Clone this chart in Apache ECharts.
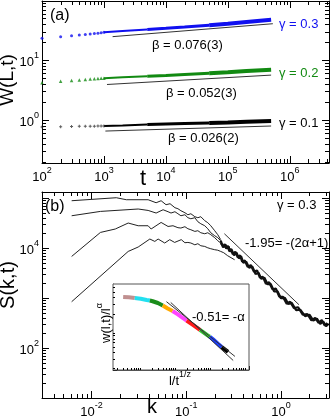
<!DOCTYPE html>
<html>
<head>
<meta charset="utf-8">
<script src="https://cdn.jsdelivr.net/npm/echarts@6/dist/echarts.min.js"></script>
<style>
html, body { margin: 0; padding: 0; background: #fff; }
#chart { width: 332px; height: 419px; }
</style>
</head>
<body>
<div id="chart"></div>
<script>
// (a) W(L,t) vs t : early sparse points, then dense band, then power-law fits
var T_DOTS = [100, 200, 300, 400, 500, 600, 700, 800, 900, 1000];
var W03_DOTS = [23.3, 24.6, 25.6, 26.3, 26.9, 27.4, 27.9, 28.4, 28.9, 29.4];
var W02_DOTS = [4.2, 4.45, 4.58, 4.68, 4.76, 4.83, 4.89, 4.93, 4.97, 5.0];
var W01_DOTS = [0.76, 0.77, 0.775, 0.78, 0.782, 0.785, 0.787, 0.789, 0.79, 0.792];

var T_BAND = [1e3, 2e3, 5e3, 1e4, 2e4, 5e4, 1e5, 2e5, 5e5];
var W03_BAND = [29.4, 30.9, 32.6, 34.2, 35.9, 38.5, 40.8, 43.6, 47.5];
var W02_BAND = [5.0, 5.17, 5.39, 5.57, 5.78, 6.05, 6.3, 6.58, 6.95];
var W01_BAND = [0.792, 0.81, 0.835, 0.852, 0.87, 0.89, 0.905, 0.93, 0.96];

var T_FIT03 = [1380, 5.33e5], W_FIT03 = [24.8, 40.8];
var T_FIT02 = [1120, 5.0e5], W_FIT02 = [3.92, 5.63];
var T_FIT01 = [1055, 5.0e5], W_FIT01 = [0.651, 0.791];

// (b) S(k,t) for four times
var K1 = [0.00617, 0.01828, 0.0233, 0.0396, 0.0481, 0.0543, 0.0612, 0.0675, 0.0760, 0.0818, 0.0879, 0.0969, 0.1042, 0.112, 0.1234, 0.1327, 0.1426, 0.157, 0.169, 0.1817, 0.200, 0.2153, 0.2314];
var S1 = [88300, 101400, 92500, 92500, 80500, 88300, 73500, 76900, 64000, 61100, 55700, 50800, 46300, 48500, 42300, 40400, 42300, 35200, 32100, 27900, 22200, 18500, 14700];
var K2 = [0.00617, 0.01242, 0.0311, 0.0396, 0.0481, 0.0570, 0.0643, 0.0691, 0.0760, 0.0818, 0.0879, 0.0969, 0.1042, 0.112, 0.1234, 0.1327, 0.1426, 0.157, 0.169, 0.1817, 0.200, 0.2153, 0.2314];
var S2 = [44200, 54000, 60300, 56500, 50100, 58300, 53200, 50100, 53200, 48500, 44200, 46300, 40400, 38500, 40400, 33600, 30600, 27900, 24300, 20200, 17600, 16100, 14000];
var K3 = [0.00617, 0.01242, 0.01782, 0.0244, 0.0311, 0.0396, 0.0426, 0.0543, 0.0643, 0.0725, 0.0818, 0.0879, 0.0969, 0.1042, 0.112, 0.1234, 0.1327, 0.1426, 0.157, 0.169, 0.1817, 0.200, 0.2153, 0.2314];
var S3 = [6790, 20500, 24000, 31600, 27900, 27900, 24000, 32500, 27000, 27900, 25500, 25100, 26700, 24300, 23200, 21500, 22200, 20200, 19300, 20200, 18500, 16100, 14000, 12600];
var K4 = [0.00617, 0.0244, 0.0311, 0.0413, 0.0466, 0.0505, 0.0593, 0.0670, 0.0755, 0.0887, 0.0969, 0.1042, 0.112, 0.1234, 0.1327, 0.1426, 0.157, 0.169, 0.1817, 0.200, 0.2153, 0.2314, 0.249, 0.274, 0.3243];
var S4 = [843, 8550, 10470, 15140, 13550, 15140, 12600, 14700, 12940, 14700, 12760, 12940, 12600, 11600, 12200, 11100, 10760, 10100, 9680, 9250, 9040, 8550, 8050, 7010, 5830];
// merged noisy tail of all four curves (two interleaved traces)
var K_TAIL = [0.2314, 0.25, 0.26, 0.27, 0.28, 0.29, 0.30, 0.32, 0.34, 0.36, 0.38, 0.40, 0.43, 0.46, 0.50, 0.54, 0.58, 0.62, 0.67, 0.72, 0.78, 0.85, 0.92, 1.0, 1.1, 1.2, 1.3, 1.45, 1.6, 1.8, 2.0, 2.2, 2.4, 2.6, 2.8, 3.0, 3.2];
var S_TAIL = [12600, 10450, 11720, 9700, 10840, 8410, 9440, 7190, 8040, 6220, 6840, 5100, 5330, 4060, 4240, 3010, 3200, 2420, 2540, 1900, 1910, 1350, 1365, 993, 1010, 760, 798, 570, 582, 435, 463, 354, 387, 303, 338, 274, 306];
var K_TAIL2 = [0.2314, 0.245, 0.255, 0.265, 0.275, 0.285, 0.295, 0.31, 0.33, 0.35, 0.37, 0.39, 0.415, 0.445, 0.48, 0.52, 0.56, 0.60, 0.645, 0.695, 0.75, 0.815, 0.885, 0.96, 1.05, 1.15, 1.25, 1.37, 1.52, 1.7, 1.9, 2.1, 2.3, 2.5, 2.7, 2.9, 3.1];
var S_TAIL2 = [14000, 10330, 12020, 9730, 11120, 8610, 9640, 7520, 8450, 6520, 7140, 5330, 5650, 4200, 4550, 3370, 3560, 2560, 2650, 1930, 2060, 1500, 1540, 1070, 1060, 769, 843, 630, 653, 463, 479, 356, 399, 320, 364, 281, 314];
var K_FIT = [0.253, 1.55], S_FIT = [19300, 735];

// inset: collapsed w(l,t)/l^alpha vs l/t^(1/z), one colour per time
var INSET_COLORS = ['#c09090', '#22e0f0', '#1a8c1a', '#ffaa00', '#ff44ff', '#ff1a1a', '#33cc33', '#1a3cff', '#000000'];
var INSET_X = [
  [0.00302, 0.00437, 0.00646],
  [0.00646, 0.00955, 0.0141, 0.0174],
  [0.0174, 0.0209, 0.0295, 0.0407],
  [0.0407, 0.0562, 0.0776],
  [0.0776, 0.1096, 0.151, 0.195],
  [0.195, 0.295, 0.468],
  [0.468, 0.562, 0.776, 0.891],
  [0.891, 1.096, 1.514, 1.95],
  [1.95, 2.09, 2.95]
];
var INSET_Y = [
  [4.03, 3.98, 3.86],
  [3.86, 3.74, 3.56, 3.47],
  [3.47, 3.37, 3.13, 2.82],
  [2.82, 2.49, 2.24],
  [2.24, 1.94, 1.67, 1.50],
  [1.50, 1.25, 1.01],
  [1.01, 0.931, 0.804, 0.759],
  [0.759, 0.681, 0.564, 0.49],
  [0.49, 0.476, 0.403]
];
var IX_FIT_A = [0.0518, 4.65], IY_FIT_A = [3.31, 0.332];
var IX_FIT_B = [0.0687, 4.14], IY_FIT_B = [3.20, 0.28];

var FONT = '"Liberation Sans", Arial, sans-serif';

function pairs(xs, ys) {
  return xs.map(function (x, i) { return [x, ys[i]]; });
}
function part(xs, ys, a, b) {
  return pairs(xs.slice(a, b), ys.slice(a, b));
}

var RICH = {
  b: { fontSize: 13, fontFamily: FONT, color: '#000', padding: [5, 0, 0, 0], verticalAlign: 'bottom' },
  s: { fontSize: 9, fontFamily: FONT, color: '#000', verticalAlign: 'top' }
};

function expLabel(evenOnly) {
  return function (v) {
    var e = Math.log10(v), r = Math.round(e);
    if (Math.abs(e - r) > 1e-6) return '';
    if (evenOnly && r % 2 !== 0) return '';
    return '{b|10}{s|' + r + '}';
  };
}

function logAxis(grid, pos, min, max, opts) {
  opts = opts || {};
  return {
    type: 'log', logBase: 10, gridIndex: grid, position: pos, min: min, max: max,
    axisLine: { show: true, onZero: false, lineStyle: { color: opts.lineColor || '#000', width: 1 } },
    axisTick: { show: opts.tick !== false, inside: true, length: opts.tickLen || 7, lineStyle: { color: '#000', width: 1 } },
    axisLabel: {
      show: !!opts.label, formatter: opts.label, rich: RICH, margin: opts.margin || 3,
      showMinLabel: true, showMaxLabel: true, hideOverlap: false
    },
    splitLine: { show: false }
  };
}

function minorTicks(lo, hi) {
  var out = [];
  for (var e = Math.floor(Math.log10(lo)); e <= Math.ceil(Math.log10(hi)); e++) {
    for (var m = 2; m <= 9; m++) {
      var v = m * Math.pow(10, e);
      if (v > lo && v < hi) out.push(v);
    }
  }
  return out;
}

// minor ticks on log axes drawn through the axis scale
function xMinor(xi, yi, lo, hi, yRef, len, both) {
  return {
    type: 'custom', xAxisIndex: xi, yAxisIndex: yi, silent: true, z: 10,
    data: minorTicks(lo, hi).map(function (v) { return [v, yRef]; }),
    renderItem: function (params, api) {
      var cs = params.coordSys;
      var x = Math.round(api.coord([api.value(0), api.value(1)])[0]) + 0.5;
      var b = cs.y + cs.height;
      var kids = [{ type: 'line', shape: { x1: x, y1: b, x2: x, y2: b - len }, style: { stroke: '#000', lineWidth: 1 } }];
      if (both) kids.push({ type: 'line', shape: { x1: x, y1: cs.y, x2: x, y2: cs.y + len }, style: { stroke: '#000', lineWidth: 1 } });
      return { type: 'group', children: kids };
    }
  };
}
function yMinor(xi, yi, lo, hi, xRef, len, both) {
  return {
    type: 'custom', xAxisIndex: xi, yAxisIndex: yi, silent: true, z: 10,
    data: minorTicks(lo, hi).map(function (v) { return [xRef, v]; }),
    renderItem: function (params, api) {
      var cs = params.coordSys;
      var y = Math.round(api.coord([api.value(0), api.value(1)])[1]) + 0.5;
      var r = cs.x + cs.width;
      var kids = [{ type: 'line', shape: { x1: cs.x, y1: y, x2: cs.x + len, y2: y }, style: { stroke: '#000', lineWidth: 1 } }];
      if (both) kids.push({ type: 'line', shape: { x1: r, y1: y, x2: r - len, y2: y }, style: { stroke: '#000', lineWidth: 1 } });
      return { type: 'group', children: kids };
    }
  };
}

function line(xi, yi, data, color, width, z) {
  return {
    type: 'line', xAxisIndex: xi, yAxisIndex: yi, data: data, showSymbol: false, symbol: 'none',
    lineStyle: { color: color, width: width }, z: z || 2, silent: true
  };
}
function dots(xi, yi, data, color, symbol, size) {
  return {
    type: 'scatter', xAxisIndex: xi, yAxisIndex: yi, data: data, symbol: symbol, symbolSize: size,
    itemStyle: { color: color }, z: 3, silent: true
  };
}

var BLUE = '#1010f0', GREEN = '#128a12', FITC = '#333';

var A_X = [100, 4.3e6], A_Y = [0.19, 98];
var B_X = [0.003, 3.22], B_Y = [10, 1.32e5];
var I_X = [0.00155, 11.7], I_Y = [0.1875, 6.95];

var series = [
  dots(0, 0, pairs(T_DOTS, W03_DOTS), BLUE, 'circle', 3),
  dots(0, 0, pairs(T_DOTS, W02_DOTS), GREEN, 'triangle', 3.5),
  dots(0, 0, pairs(T_DOTS, W01_DOTS), '#333', 'path://M2,0h2v2h2v2h-2v2h-2v-2h-2v-2h2z', 3),
  line(0, 0, pairs(T_FIT03, W_FIT03), FITC, 1),
  line(0, 0, pairs(T_FIT02, W_FIT02), FITC, 1),
  line(0, 0, pairs(T_FIT01, W_FIT01), FITC, 1),

  line(2, 2, pairs(K1, S1), '#222', 1),
  line(2, 2, pairs(K2, S2), '#222', 1),
  line(2, 2, pairs(K3, S3), '#222', 1),
  line(2, 2, pairs(K4, S4), '#222', 1),
  line(2, 2, pairs(K_TAIL, S_TAIL), '#111', 2.2),
  line(2, 2, pairs(K_TAIL2, S_TAIL2), '#111', 2.2),
  line(2, 2, pairs(K_FIT, S_FIT), FITC, 1),

  line(4, 4, pairs(IX_FIT_A, IY_FIT_A), FITC, 1, 6),
  line(4, 4, pairs(IX_FIT_B, IY_FIT_B), FITC, 1, 6),

  xMinor(0, 0, A_X[0], A_X[1], 1, 4, true),
  yMinor(0, 0, A_Y[0], A_Y[1], 1000, 4, true),
  xMinor(2, 2, B_X[0], B_X[1], 100, 4, true),
  yMinor(2, 2, B_Y[0], B_Y[1], 0.1, 4, true),
  xMinor(4, 4, I_X[0], I_X[1], 1, 2, false),
  yMinor(4, 4, I_Y[0], I_Y[1], 0.1, 2, false)
];
// dense band thickens with time
[[W03_BAND, BLUE], [W02_BAND, GREEN], [W01_BAND, '#000']].forEach(function (b) {
  series.push(line(0, 0, part(T_BAND, b[0], 0, 3), b[1], 2));
  series.push(line(0, 0, part(T_BAND, b[0], 2, 6), b[1], 3));
  series.push(line(0, 0, part(T_BAND, b[0], 5, 9), b[1], 4));
});
INSET_X.forEach(function (xs, i) {
  series.push(line(4, 4, pairs(xs, INSET_Y[i]), INSET_COLORS[i], 4, 5));
});

function txt(x, y, text, size, color, align, rot, rich) {
  return {
    type: 'text', x: x, y: y, rotation: rot || 0, z: 20, silent: true,
    style: {
      text: text, fill: color || '#000', font: size + 'px ' + FONT,
      textAlign: align || 'left', textVerticalAlign: 'middle', rich: rich
    }
  };
}
var SUP_RICH = {
  s: { fontSize: 9, fontFamily: FONT, color: '#000', verticalAlign: 'top' },
  n: { fontSize: 13, fontFamily: FONT, color: '#000', padding: [4, 0, 0, 0], verticalAlign: 'bottom' }
};

var option = {
  animation: false,
  backgroundColor: '#fff',
  grid: [
    { left: 42, top: 1, right: 1, height: 162 },
    { left: 42, top: 192, right: 1, height: 206 },
    { left: 113, top: 284, width: 136, height: 86, show: true, backgroundColor: '#fff', borderColor: '#555', borderWidth: 1, z: 4 }
  ],
  xAxis: [
    logAxis(0, 'bottom', A_X[0], A_X[1], { label: expLabel(false) }),
    logAxis(0, 'top', A_X[0], A_X[1]),
    logAxis(1, 'bottom', B_X[0], B_X[1], { label: expLabel(false) }),
    logAxis(1, 'top', B_X[0], B_X[1]),
    logAxis(2, 'bottom', I_X[0], I_X[1], { tickLen: 4, lineColor: '#555' })
  ],
  yAxis: [
    logAxis(0, 'left', A_Y[0], A_Y[1], { label: expLabel(false) }),
    logAxis(0, 'right', A_Y[0], A_Y[1]),
    logAxis(1, 'left', B_Y[0], B_Y[1], { label: expLabel(true) }),
    logAxis(1, 'right', B_Y[0], B_Y[1]),
    logAxis(2, 'left', I_Y[0], I_Y[1], { tickLen: 4, lineColor: '#555' })
  ],
  series: series,
  graphic: [
    txt(50, 16, '(a)', 16),
    txt(152, 45, 'β = 0.076(3)', 13),
    txt(166, 93, 'β = 0.052(3)', 13),
    txt(168, 138, 'β = 0.026(2)', 13),
    txt(279, 24, 'γ = 0.3', 13, BLUE),
    txt(279, 73, 'γ = 0.2', 13, GREEN),
    txt(279, 123, 'γ = 0.1', 13),
    txt(8, 80, 'W(L,t)', 19, '#000', 'center', Math.PI / 2),
    txt(143, 179, 't', 22, '#000', 'center'),
    txt(45, 207, '(b)', 16),
    txt(277, 205, 'γ = 0.3', 13),
    txt(245, 243, '-1.95= -(2α+1)', 13),
    txt(8, 285, 'S(k,t)', 20, '#000', 'center', Math.PI / 2),
    txt(152, 407, 'k', 20, '#000', 'center'),
    txt(192, 317, '-0.51= -α', 13),
    txt(104, 323, '{n|w(l,t)/l}{s|α}', 13, '#000', 'center', Math.PI / 2, SUP_RICH),
    txt(180, 379, '{n|l/t}{s|1/z}', 13, '#000', 'center', 0, SUP_RICH)
  ]
};

var myChart = echarts.init(document.getElementById('chart'), null, { renderer: 'canvas' });
myChart.setOption(option);
</script>
</body>
</html>
